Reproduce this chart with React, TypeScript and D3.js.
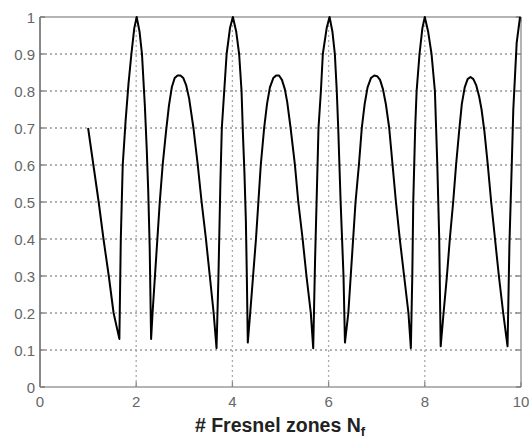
import React from "react";
import * as d3 from "d3";

const xTicks = [0, 2, 4, 6, 8, 10];
const yTicks = [0, 0.1, 0.2, 0.3, 0.4, 0.5, 0.6, 0.7, 0.8, 0.9, 1];
const yTickLabels = ["0", "0.1", "0.2", "0.3", "0.4", "0.5", "0.6", "0.7", "0.8", "0.9", "1"];
const xLabel = "# Fresnel zones N";
const xLabelSub = "f";

const curveX = [
  1.00, 1.11, 1.22, 1.32, 1.43, 1.53, 1.65,
  1.68, 1.72, 1.78, 1.84, 1.90, 1.96, 2.01, 2.07, 2.12, 2.18, 2.22, 2.25, 2.28, 2.31,
  2.34, 2.39, 2.44, 2.49, 2.55, 2.62, 2.68, 2.74, 2.80, 2.86, 2.92, 2.98, 3.04, 3.10, 3.19, 3.28, 3.36, 3.45, 3.53, 3.61, 3.67,
  3.71, 3.75, 3.78, 3.83, 3.88, 3.95, 4.01, 4.08, 4.14, 4.19, 4.22, 4.25, 4.28, 4.30, 4.32,
  4.37, 4.43, 4.49, 4.54, 4.59, 4.66, 4.72, 4.78, 4.85, 4.91, 4.97, 5.03, 5.09, 5.14, 5.21, 5.30, 5.37, 5.46, 5.54, 5.63, 5.68,
  5.72, 5.75, 5.79, 5.84, 5.88, 5.96, 6.02, 6.08, 6.13, 6.17, 6.20, 6.25, 6.31, 6.34,
  6.41, 6.46, 6.51, 6.56, 6.63, 6.69, 6.75, 6.81, 6.88, 6.95, 7.01, 7.07, 7.13, 7.19, 7.26, 7.33, 7.40, 7.48, 7.57, 7.66, 7.71,
  7.74, 7.76, 7.80, 7.83, 7.89, 7.95, 8.00, 8.07, 8.14, 8.21, 8.26, 8.30, 8.33,
  8.39, 8.46, 8.52, 8.59, 8.65, 8.72, 8.77, 8.83, 8.89, 8.95, 9.01, 9.07, 9.13, 9.18, 9.24, 9.31, 9.38, 9.46, 9.54, 9.63, 9.72,
  9.76, 9.81, 9.84, 9.91, 9.98,
];
const curveY = [
  0.70, 0.60, 0.50, 0.40, 0.30, 0.20, 0.13,
  0.40, 0.60, 0.72, 0.82, 0.90, 0.97, 1.00, 0.96, 0.90, 0.76, 0.64, 0.53, 0.38, 0.13,
  0.20, 0.30, 0.40, 0.50, 0.60, 0.69, 0.76, 0.81, 0.835, 0.842, 0.842, 0.835, 0.815, 0.78, 0.70, 0.60, 0.50, 0.40, 0.30, 0.20, 0.105,
  0.30, 0.55, 0.70, 0.80, 0.90, 0.97, 1.00, 0.96, 0.90, 0.80, 0.68, 0.58, 0.45, 0.30, 0.12,
  0.20, 0.30, 0.40, 0.50, 0.60, 0.70, 0.765, 0.81, 0.835, 0.842, 0.842, 0.83, 0.805, 0.77, 0.70, 0.60, 0.50, 0.40, 0.30, 0.20, 0.105,
  0.35, 0.50, 0.70, 0.80, 0.90, 0.97, 1.00, 0.96, 0.90, 0.80, 0.70, 0.50, 0.30, 0.12,
  0.20, 0.30, 0.40, 0.50, 0.60, 0.70, 0.765, 0.81, 0.835, 0.842, 0.84, 0.83, 0.805, 0.765, 0.70, 0.60, 0.50, 0.40, 0.30, 0.20, 0.105,
  0.30, 0.50, 0.70, 0.80, 0.90, 0.97, 1.00, 0.96, 0.90, 0.80, 0.60, 0.40, 0.11,
  0.20, 0.30, 0.40, 0.50, 0.60, 0.70, 0.765, 0.81, 0.832, 0.838, 0.832, 0.815, 0.785, 0.75, 0.69, 0.60, 0.50, 0.40, 0.30, 0.20, 0.11,
  0.39, 0.61, 0.75, 0.93, 1.00,
];

const W = 529;
const H = 439;
const left = 40;
const right = 521;
const top = 17;
const bottom = 387;

export default function App() {
  const x = d3.scaleLinear().domain([0, 10]).range([left, right]);
  const y = d3.scaleLinear().domain([0, 1]).range([bottom, top]);
  const pts: [number, number][] = curveX.map((v, i) => [v, curveY[i]]);
  const line = d3
    .line<[number, number]>()
    .x((d) => x(d[0]))
    .y((d) => y(d[1]))
    .curve(d3.curveLinear);
  const font = "'Liberation Sans', Arial, sans-serif";
  const tickLen = 5;
  return (
    <svg
      width={W}
      height={H}
      style={{ position: "absolute", left: 0, top: 0, background: "#fff" }}
    >
      {yTicks.slice(1, -1).map((t) => (
        <line
          key={"gy" + t}
          x1={left}
          x2={right}
          y1={y(t)}
          y2={y(t)}
          stroke="#999"
          strokeWidth={1.3}
          strokeDasharray="2,3"
        />
      ))}
      {xTicks.slice(1, -1).map((t) => (
        <line
          key={"gx" + t}
          x1={x(t)}
          x2={x(t)}
          y1={bottom}
          y2={top}
          stroke="#aaa"
          strokeWidth={1.3}
          strokeDasharray="2,3"
        />
      ))}
      <line x1={left} x2={right} y1={top} y2={top} stroke="#b4b4b4" strokeWidth={2} />
      <line x1={right} x2={right} y1={top} y2={bottom} stroke="#b4b4b4" strokeWidth={2} />
      <line x1={left} x2={right} y1={bottom} y2={bottom} stroke="#b4b4b4" strokeWidth={2} />
      <line x1={left} x2={left} y1={top} y2={bottom} stroke="#888" strokeWidth={2} />
      {xTicks.map((t) => (
        <g key={"tx" + t}>
          <line x1={x(t)} x2={x(t)} y1={bottom} y2={bottom - tickLen} stroke="#888" strokeWidth={1.3} />
          <line x1={x(t)} x2={x(t)} y1={top} y2={top + tickLen} stroke="#888" strokeWidth={1.3} />
          <text x={x(t)} y={407} textAnchor="middle" fontFamily={font} fontSize={15} fill="#666">
            {t}
          </text>
        </g>
      ))}
      {yTicks.map((t, i) => (
        <g key={"ty" + t}>
          <line x1={left} x2={left + tickLen} y1={y(t)} y2={y(t)} stroke="#777" strokeWidth={1.3} />
          <line x1={right} x2={right - tickLen} y1={y(t)} y2={y(t)} stroke="#777" strokeWidth={1.3} />
          <text x={35} y={y(t) + 5.5} textAnchor="end" fontFamily={font} fontSize={15} fill="#666">
            {yTickLabels[i]}
          </text>
        </g>
      ))}
      <path d={line(pts) || ""} fill="none" stroke="#000" strokeWidth={2} strokeLinejoin="round" />
      <text
        x={280}
        y={432}
        textAnchor="middle"
        fontFamily={font}
        fontSize={19.5}
        fontWeight="bold"
        fill="#222"
      >
        {xLabel}
        <tspan fontSize={13} dy={4}>
          {xLabelSub}
        </tspan>
      </text>
    </svg>
  );
}
